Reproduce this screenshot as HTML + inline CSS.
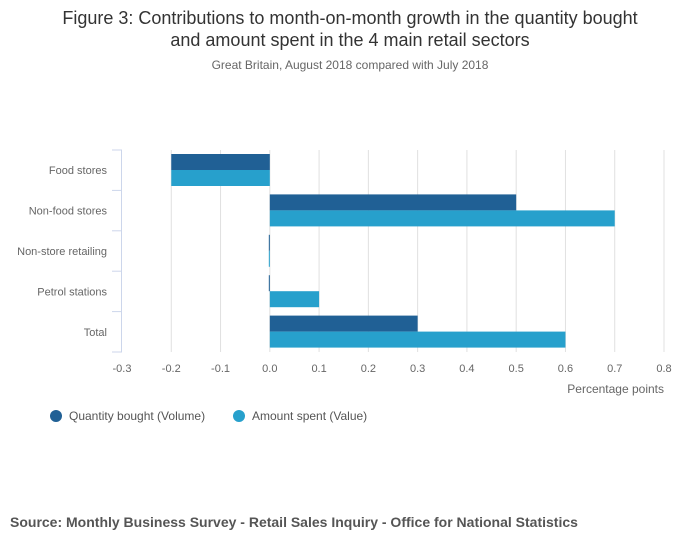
<!DOCTYPE html>
<html><head><meta charset="utf-8"><style>
body{margin:0;background:#fff;font-family:"Liberation Sans",sans-serif;}
</style></head><body>
<svg width="700" height="549" viewBox="0 0 700 549" xmlns="http://www.w3.org/2000/svg">
<text x="350" y="24" text-anchor="middle" font-size="18" fill="#333">Figure 3: Contributions to month-on-month growth in the quantity bought</text>
<text x="350" y="46" text-anchor="middle" font-size="18" fill="#333">and amount spent in the 4 main retail sectors</text>
<text x="350" y="69" text-anchor="middle" font-size="12" fill="#666">Great Britain, August 2018 compared with July 2018</text>
<g id="grid"></g><g id="bars"></g><g id="axes"></g>
<text x="664" y="393" text-anchor="end" font-size="12" fill="#666">Percentage points</text>
<circle cx="56" cy="416" r="6" fill="#206095"/>
<text x="69" y="420" font-size="12" fill="#555">Quantity bought (Volume)</text>
<circle cx="239" cy="416" r="6" fill="#27a0cc"/>
<text x="252" y="420" font-size="12" fill="#555">Amount spent (Value)</text>
<text x="10" y="527" font-size="14" font-weight="bold" fill="#555">Source: Monthly Business Survey - Retail Sales Inquiry - Office for National Statistics</text>
</svg>
<script>
const categories=["Food stores","Non-food stores","Non-store retailing","Petrol stations","Total"];
const volume=[-0.2,0.5,-0.001,-0.001,0.3];
const value=[-0.2,0.7,-0.001,0.1,0.6];
const ticks=[-0.3,-0.2,-0.1,0.0,0.1,0.2,0.3,0.4,0.5,0.6,0.7,0.8];
const NS="http://www.w3.org/2000/svg";
const x0=122,x1=664,yTop=150,yBot=352,xmin=-0.3,xmax=0.8;
const band=(yBot-yTop)/categories.length;
function X(v){return x0+(v-xmin)/(xmax-xmin)*(x1-x0);}
function mk(t,a,p){const e=document.createElementNS(NS,t);for(const k in a)e.setAttribute(k,a[k]);p.appendChild(e);return e;}
const grid=document.getElementById('grid'),bars=document.getElementById('bars'),axes=document.getElementById('axes');
ticks.forEach((t,i)=>{
 if(i>0){const l=mk('line',{x1:X(t),x2:X(t),y1:yTop,y2:yBot,stroke:'#e0e0e0'},grid);
 
 }
 const tx=mk('text',{x:X(t),y:372,'text-anchor':'middle','font-size':11,fill:'#666'},axes);
 tx.textContent=t.toFixed(1);
 
 
});
const ax=mk('line',{x1:121.5,x2:121.5,y1:yTop,y2:yBot,stroke:'#ccd6eb'},axes);


for(let i=0;i<=categories.length;i++){const y=yTop+i*band;
 const tk=mk('line',{x1:112,x2:122,y1:y,y2:y,stroke:'#ccd6eb'},axes);
 
 }
categories.forEach((c,i)=>{
 const yc=yTop+i*band;
 const t=mk('text',{x:107,y:yc+band/2+4,'text-anchor':'end','font-size':11,fill:'#666'},axes);
 t.textContent=c;
 
 
 [[volume,'#206095',0],[value,'#27a0cc',1]].forEach(([s,col,k])=>{
  const v=s[i];let a=Math.min(X(0),X(v)),w=Math.abs(X(v)-X(0));if(w<1){w=1;a=X(0)-1;}
  const r=mk('rect',{x:a,y:yc+4+k*16,width:w,height:16,fill:col},bars);
  
  
 });
});
</script>
</body></html>
